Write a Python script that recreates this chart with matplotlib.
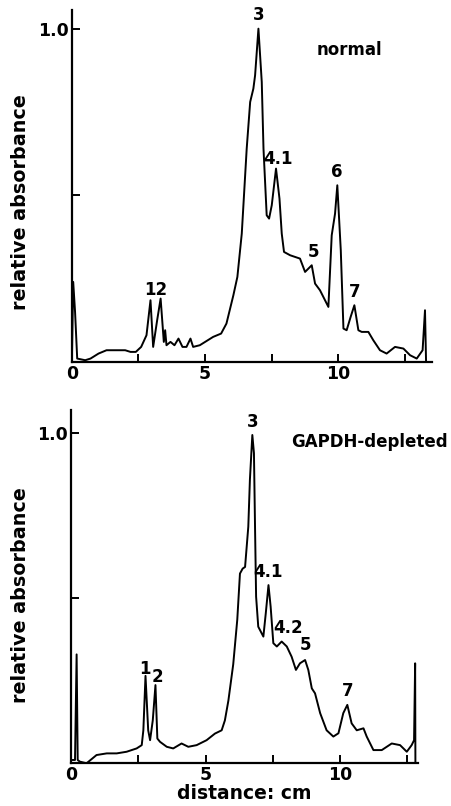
import numpy as np
import matplotlib
matplotlib.use("Agg")
import matplotlib.pyplot as plt
from matplotlib.ticker import MultipleLocator

# densitometer trace, normal cells (distance cm, relative absorbance)
normal_x = [0.0, 0.05, 0.12, 0.2, 0.5, 0.7, 1.0, 1.3, 1.5, 2.0, 2.2, 2.4, 2.6, 2.8,
            2.95, 3.05, 3.2, 3.33, 3.45, 3.5, 3.55, 3.7, 3.85, 4.0, 4.15, 4.3, 4.45,
            4.55, 4.8, 5.0, 5.3, 5.6, 5.8, 6.06, 6.21, 6.375, 6.56, 6.69, 6.81, 6.875,
            7.0, 7.125, 7.19, 7.31, 7.4, 7.5, 7.66, 7.79, 7.875, 7.96, 8.19, 8.375,
            8.56, 8.75, 9.0, 9.125, 9.31, 9.625, 9.75, 9.875, 9.96, 10.09, 10.19,
            10.31, 10.46, 10.6, 10.75, 10.875, 11.125, 11.31, 11.56, 11.81, 12.125,
            12.44, 12.69, 12.94, 13.16, 13.25, 13.29]
normal_y = [0.0, 0.24, 0.15, 0.01, 0.005, 0.01, 0.025, 0.035, 0.035, 0.035, 0.03, 0.03,
            0.045, 0.08, 0.185, 0.045, 0.125, 0.19, 0.06, 0.095, 0.05, 0.06, 0.05, 0.07,
            0.045, 0.045, 0.07, 0.045, 0.05, 0.06, 0.075, 0.085, 0.115, 0.2, 0.255,
            0.385, 0.64, 0.78, 0.82, 0.86, 1.0, 0.84, 0.64, 0.44, 0.43, 0.47, 0.58,
            0.49, 0.385, 0.33, 0.32, 0.315, 0.31, 0.27, 0.29, 0.235, 0.215, 0.165,
            0.38, 0.445, 0.53, 0.335, 0.1, 0.095, 0.135, 0.17, 0.095, 0.09, 0.09,
            0.065, 0.035, 0.025, 0.045, 0.04, 0.02, 0.01, 0.035, 0.155, 0.0]

# GAPDH-depleted cells
depl_x = [0.0, 0.15, 0.21, 0.25, 0.33, 0.58, 0.95, 1.33, 1.7, 2.07, 2.44, 2.63, 2.69,
          2.77, 2.87, 2.94, 3.04, 3.14, 3.21, 3.31, 3.56, 3.8, 4.11, 4.36, 4.67, 5.04,
          5.35, 5.6, 5.72, 5.85, 6.03, 6.18, 6.28, 6.38, 6.47, 6.59, 6.65, 6.74, 6.8,
          6.84, 6.88, 6.96, 7.15, 7.24, 7.34, 7.42, 7.52, 7.65, 7.83, 8.02, 8.2, 8.36,
          8.51, 8.7, 8.82, 8.95, 9.07, 9.26, 9.5, 9.75, 9.94, 10.12, 10.27, 10.43,
          10.62, 10.87, 10.99, 11.24, 11.55, 11.92, 12.23, 12.48, 12.66, 12.75, 12.79,
          12.8]
depl_y = [0.01, 0.01, 0.33, 0.01, 0.005, 0.0, 0.025, 0.03, 0.03, 0.035, 0.045, 0.055,
          0.1, 0.265, 0.1, 0.07, 0.13, 0.237, 0.075, 0.065, 0.05, 0.045, 0.06, 0.05,
          0.055, 0.07, 0.09, 0.1, 0.13, 0.19, 0.3, 0.435, 0.575, 0.59, 0.595, 0.717,
          0.86, 0.995, 0.94, 0.717, 0.505, 0.414, 0.384, 0.455, 0.54, 0.475, 0.364,
          0.354, 0.369, 0.354, 0.323, 0.283, 0.303, 0.313, 0.283, 0.227, 0.212, 0.152,
          0.1, 0.081, 0.091, 0.152, 0.177, 0.121, 0.1, 0.106, 0.081, 0.04, 0.04, 0.06,
          0.055, 0.035, 0.055, 0.07, 0.303, 0.0]

# band labels: text, x, y
normal_bands = [("3", 7.0, 1.04), ("4.1", 7.75, 0.61), ("6", 9.94, 0.57),
                ("5", 9.06, 0.33), ("7", 10.62, 0.21), ("12", 3.13, 0.215)]
depl_bands = [("3", 6.74, 1.035), ("4.1", 7.34, 0.58), ("4.2", 8.08, 0.41),
              ("5", 8.7, 0.36), ("7", 10.27, 0.22), ("1", 2.76, 0.285), ("2", 3.2, 0.26)]

fs = 12
plt.rcParams['font.family'] = ['DejaVu Sans']

fig = plt.figure(figsize=(4.52, 8.06), dpi=100)
ax1 = fig.add_axes([0.159, 0.551, 0.796, 0.437])
ax2 = fig.add_axes([0.157, 0.053, 0.768, 0.438])

def setup(ax, xmax, ymax, ylab_x, ylab_y):
    ax.set_xlim(0, xmax)
    ax.set_ylim(0, ymax)
    for s in ['top', 'right']:
        ax.spines[s].set_visible(False)
    for s in ['left', 'bottom']:
        ax.spines[s].set_linewidth(1.6)
    ax.xaxis.set_major_locator(MultipleLocator(5))
    ax.xaxis.set_minor_locator(MultipleLocator(2.5))
    ax.set_yticks([0.5, 1.0])
    ax.set_yticklabels(["", "1.0"])
    ax.tick_params(direction='in', length=6, width=1.4, labelsize=12.5, which='both')
    ax.tick_params(axis='y', pad=2)
    ax.tick_params(axis='x', pad=2)
    for lab in ax.get_xticklabels() + ax.get_yticklabels():
        lab.set_fontweight('bold')
    ax.set_ylabel("relative absorbance", fontsize=13.8, fontweight='bold')
    ax.yaxis.set_label_coords(ylab_x, ylab_y)

setup(ax1, 13.5, 1.057, -0.117, 0.455)
ax1.plot(normal_x, normal_y, color='black', lw=1.4)
for t, x, y in normal_bands:
    ax1.text(x, y, t, ha='center', va='center', fontsize=fs, fontweight='bold')
ax1.text(10.4, 0.937, "normal", ha='center', va='center', fontsize=fs, fontweight='bold')

setup(ax2, 12.9, 1.07, -0.118, 0.476)
ax2.plot(depl_x, depl_y, color='black', lw=1.4)
for t, x, y in depl_bands:
    ax2.text(x, y, t, ha='center', va='center', fontsize=fs, fontweight='bold')
ax2.text(11.1, 0.975, "GAPDH-depleted", ha='center', va='center', fontsize=fs, fontweight='bold')
ax2.set_xlabel("distance: cm", fontsize=13.5, fontweight='bold', labelpad=0)

fig.savefig("out.png", dpi=100)
